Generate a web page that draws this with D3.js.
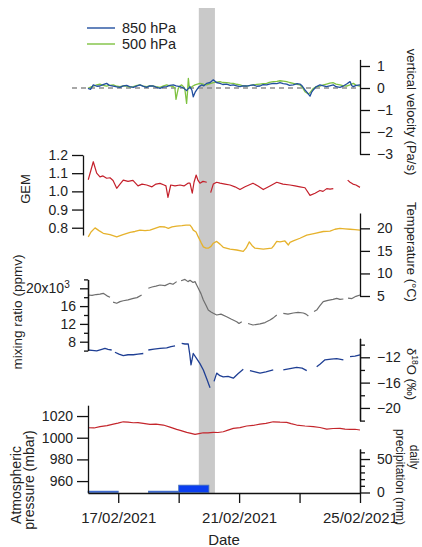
<!DOCTYPE html>
<html><head><meta charset="utf-8">
<script src="https://cdn.jsdelivr.net/npm/d3@7"></script>
<style>
body{margin:0;background:#fff}
svg text{font-family:"Liberation Sans",Arial,sans-serif;fill:#222}
</style></head><body><svg id="c" width="422" height="547"></svg>
<script>
// ---------- DATA ----------
const startDate = "2021-02-16T00:00:00Z", endDate = "2021-02-25T00:00:00Z";
const dateTicks = ["2021-02-17","2021-02-19","2021-02-21","2021-02-23","2021-02-25"];
const dateTickLabels = ["17/02/2021","","21/02/2021","","25/02/2021"];
const bandHours = [88, 100.8];   // shaded event window (hours after 16/02 00:00)

const vel850H = [0,2,4.2,7,9.5,12,14.8,17,20.1,23,25.4,28,30.7,33,36,39,41.3,44,46.6,49,51.9,54,57.2,60,62.5,65,67.8,70,73.1,76,78.3,81,82.5,83.6,85,86.3,88,90.3,92,94.2,97,99.5,102,104.8,107,110.1,113,115.4,118,120.7,123,126,129,131.3,134,136.6,139,141.9,144,147.2,150,152.5,155,157.8,160,163,166,168.3,170,172.3,174,176.3,177.5,178.9,181,184.2,187,189.5,192,194.8,197,200.1,203,205.4,208.1,209.5,210.7,213,216];
const vel850 = [-0.02,-0.06,0.14,0.08,0.09,0.15,0.21,0.12,0.09,0.05,0.03,0.1,0.12,0.06,0.03,0.1,0.14,0.07,0.03,0.1,0.09,0.04,-0.02,0.05,0.06,0.12,0.14,0.1,0.06,0.0,-0.12,0.06,-0.1,-0.4,-0.2,-0.09,0.05,0.14,0.1,0.21,0.25,0.37,0.25,0.21,0.16,0.18,0.12,0.14,0.1,0.06,0.1,0.09,0.12,0.14,0.08,0.09,0.15,0.14,0.18,0.21,0.2,0.24,0.2,0.18,0.12,0.14,0.2,0.18,0.1,-0.09,-0.2,-0.37,-0.2,-0.09,0.05,0.14,0.1,0.06,0.1,0.14,0.06,0.03,0.1,0.18,0.29,0.1,0.06,0.12,0.14];
const vel500H = [0,2.5,4.2,7,9.5,12,14.8,17,20.1,23,25.4,28,30.7,33,36,39,41.3,44,46.6,49,51.9,54,57.2,60,62.5,65,67.8,69,69.9,71,71.7,73.1,74.4,76,77,78.3,79,79.7,80.3,81,83,85,88.9,92,94.2,97,99.5,102,104.8,107,110.1,113,115.4,118,120.7,123,126,129,131.3,134,136.6,139,141.9,144,147.2,150,152.5,155,157.8,160,163,166,168.3,170,172.3,175,176.5,178.9,181,184.2,187,189.5,192,194.8,197,200.1,203,205.4,208,210.7,213,216];
const vel500 = [-0.02,0.05,0.09,0.14,0.18,0.12,0.09,0.12,0.14,0.08,0.06,0.1,0.09,0.04,0.06,0.12,0.14,0.08,0.06,0.1,0.09,0.06,0.03,0.1,0.14,0.1,0.06,0.0,-0.52,-0.2,-0.02,0.1,0.14,0.05,-0.09,-0.70,-0.2,0.44,0.1,-0.02,0.08,0.14,0.21,0.16,0.14,0.2,0.24,0.27,0.29,0.25,0.24,0.22,0.21,0.17,0.14,0.1,0.09,0.12,0.14,0.16,0.18,0.2,0.21,0.26,0.29,0.3,0.33,0.31,0.29,0.25,0.21,0.17,0.14,0.05,-0.17,-0.27,-0.2,-0.02,0.05,0.09,0.14,0.18,0.22,0.24,0.18,0.14,0.1,0.09,0.14,0.21,0.12,0.09];

const gemH = [0.2,4.2,6.9,9.5,11.9,14.8,17.5,19.9,22.8,25.4,28,31.8,35.7,39.7,42.9,46.6,50.8,54,57.2,60.4,61.9,63.5,65.7,69.1,73.1,76.2,79.4,81,82.8,84.2,85.9,87.4,88.9,91.3,94.3,96,97.4,99.5,102.2,104.8,108.8,112.8,116.7,120.7,124.7,131,135,139.2,144.5,149.9,154.8,160.4,164.4,168.3,172.3,176.3,180.3,184.2,186.6,189.6,192.2,194.8,200,206.2,208.1,210.4,212.8,216];
const gem = [1.064,1.163,1.10,1.08,1.085,1.072,1.075,1.06,1.017,1.04,1.062,1.055,1.06,1.03,1.04,1.035,1.025,1.04,1.044,1.035,1.03,0.967,1.035,1.03,1.035,1.03,1.045,1.045,0.99,1.05,1.09,1.06,1.045,1.055,1.05,null,0.993,1.04,1.05,1.045,1.04,1.035,1.025,1.01,1.025,1.045,1.03,1.01,1.03,1.05,1.04,1.035,1.03,1.025,1.02,0.978,0.99,1.005,1.0,1.015,1.012,1.015,null,1.062,1.05,1.04,1.035,1.022];

const tempH = [0.2,2.4,5.6,8.7,12.1,17.5,22.8,27.8,33.4,37.3,41.3,45.3,49.2,53.2,57.2,61.1,63.8,66.7,70.4,74.6,77.8,81,82.4,83.6,85.8,87.6,89.7,91.6,93.7,95.5,97.7,99.5,102.2,104.8,107.4,112.8,118.1,123.3,125.5,128.1,130.2,132.6,139.2,145.9,147.7,149.9,152.5,156.4,159.1,160.4,163,168.3,173.7,180.3,186.8,192.2,196.1,200.1,204.1,208.1,212,216];
const temp = [18.1,19.2,20.1,19.5,18.9,18.6,18.1,18.6,19.1,19.3,19.6,19.5,19.6,20.0,20.4,20.3,20.0,20.3,20.5,20.6,20.7,20.7,20.2,19.6,19.2,18.1,16.9,15.9,15.6,15.6,16.0,16.7,17.1,16.5,15.8,15.4,15.2,14.9,15.6,17.0,16.2,15.6,15.4,15.6,16.2,17.1,17.0,17.2,16.3,16.9,17.2,17.8,18.5,18.9,19.3,19.4,19.8,20.0,19.9,19.8,19.7,19.6];

const mrH = [0,3.2,6.4,9.5,12.1,15.1,17.5,18.5,19.9,22.8,25.4,28,31.8,36,38.9,42.6,45,47.9,50.8,54,57.2,61.1,65.1,67.5,70.4,72,73.9,77,79.4,81,83.4,85,86.2,87.6,89.7,91.6,93.7,95.5,97.7,99.5,102.2,105.6,110.1,113.6,118.1,119.9,122.1,124,127.1,131,134.2,136.6,140.6,144.5,146.9,149.9,152,155.1,158.8,163,166.8,171,173.1,175,177,179.5,181.6,184.2,186.8,190.6,194.6,197.5,200.1,202.8,204.5,206.5,209.6,212.8,216];
const mr = [18500,18400,18600,18700,18870,18300,17980,null,16900,16630,17000,17210,17400,17750,17900,18500,null,20000,20300,20500,20740,20600,21120,20900,21500,null,21700,22000,21500,21800,21300,21500,20800,20000,18800,17370,16200,15120,14700,14380,14000,14200,13620,13100,12500,12100,12500,null,12100,11750,11900,12000,12300,12880,13300,14000,null,14380,14200,14450,14600,14450,14200,13770,null,14800,15120,16100,17000,17300,17500,17750,17500,17600,null,17800,17700,18200,18500];

const d18H = [0,3.2,6.9,10.3,13.5,15.9,18.8,20.5,21.4,24.6,28,31.8,36,39.7,43.9,46,47.9,52.4,57.2,62.5,65.9,69.1,71,74.4,77,79.6,80.8,81.8,83.6,86.3,88.9,91.6,94.5,96.9,98,100.1,102.2,104.8,107.4,111.2,115.4,119.1,123.3,125.5,128.6,132.6,136.6,141.3,147.1,149.5,155.1,160.4,165.7,170,173.7,176,181.6,184.2,188.2,193,197.5,202.8,204.5,208.1,212,216];
const d18 = [-10.85,-10.9,-11.0,-10.8,-10.6,-10.75,-10.85,null,-11.2,-11.5,-11.75,-11.6,-11.6,-11.5,-11.4,null,-10.85,-10.7,-10.6,-10.5,-10.3,-10.2,null,-9.8,-9.9,-9.9,-11.5,-13.2,-11.4,-12.2,-13.0,-14.0,-15.5,-16.8,null,-15.8,-14.5,-14.9,-15.1,-15.0,-15.3,-14.6,-13.9,null,-14.1,-14.3,-14.5,-14.3,-14.0,null,-14.0,-13.8,-13.6,-13.7,-14.1,null,-13.5,-13.1,-12.4,-12.3,-12.2,-12.4,null,-11.9,-11.8,-11.6];

const presH = [0,4.8,9.5,15.1,20.1,23.8,28,31.8,36,39.7,43.9,49.2,54,59.8,65.1,70.4,73.9,78.4,81.8,85,88.1,91.6,95.3,99.5,103.2,107.4,111.2,115.4,120.7,126,131,136.6,141.3,147.1,152.5,157.8,161.2,165.7,172.3,178.9,184.2,189.6,194.6,200.1,204.1,208.1,212,216];
const pres = [1009.2,1009.0,1010.2,1011.2,1012.6,1013.5,1014.7,1014.3,1013.8,1013.9,1013.2,1012.3,1012.6,1011.7,1009.8,1007.7,1006.6,1004.9,1004.0,1003.1,1003.8,1004.6,1004.4,1004.9,1004.8,1005.5,1007.0,1008.6,1009.3,1010.8,1011.3,1012.6,1013.2,1014.7,1014.3,1014.1,1013.0,1011.7,1010.8,1010.2,1009.4,1008.0,1008.5,1008.6,1007.9,1007.7,1007.8,1007.1];

const precipDays = ["2021-02-16","2021-02-17","2021-02-18","2021-02-19","2021-02-20","2021-02-21","2021-02-22","2021-02-23","2021-02-24"];
const precip = [2,0,2,11,0,0,0,0,0];

const velTicks = [1,0,-1,-2,-3];
const gemTicks = [0.8,0.9,1.0,1.1,1.2];
const tempTicks = [5,10,15,20];
const mrTicks = [8000,12000,16000,20000];
const mrMinor = [6000,10000,14000,18000,22000];
const d18Ticks = [-12,-16,-20];
const d18Minor = [-10,-14,-18,-22];
const presTicks = [960,980,1000,1020];
const precTicks = [0,50];
const precMinor = [10,20,30,40,60];

// ---------- DRAW ----------
const svg = d3.select("#c");
const t0 = Date.parse(startDate);
const hd = h => new Date(t0 + h * 3600e3);
const x = d3.scaleUtc().domain([new Date(startDate), new Date(endDate)]).range([88, 360]);
const pd = s => new Date(s + "T00:00:00Z");

const yVel = d3.scaleLinear().domain([-3, 1.3]).range([154, 59.4]);
const yGem = d3.scaleLinear().domain([0.76, 1.2]).range([235, 155]);
const yTemp = d3.scaleLinear().domain([5, 23.4]).range([296, 213]);
const yMr = d3.scaleLinear().domain([6000, 22000]).range([350.6, 279.4]);
const yD18 = d3.scaleLinear().domain([-22, -9]).range([420.6, 338.3]);
const yPres = d3.scaleLinear().domain([949, 1030]).range([493, 405.2]);
const yPrec = d3.scaleLinear().domain([0, 65]).range([492.5, 449]);

// shaded event band
svg.append("rect")
  .attr("x", x(hd(bandHours[0]))).attr("width", x(hd(bandHours[1])) - x(hd(bandHours[0])))
  .attr("y", 8).attr("height", 485).attr("fill", "#c9c9c9");

// zero dashed line
svg.append("line").attr("x1", 72).attr("x2", 360).attr("y1", yVel(0)).attr("y2", yVel(0))
  .attr("stroke", "#8c8c8c").attr("stroke-width", 1.3).attr("stroke-dasharray", "5,4");

function drawLine(hs, vs, y, color, w) {
  const data = d3.zip(hs, vs);
  const line = d3.line().defined(d => d[1] != null).x(d => x(hd(d[0]))).y(d => y(d[1]));
  svg.append("path").datum(data).attr("d", line).attr("fill", "none")
    .attr("stroke", color).attr("stroke-width", w || 1.2).attr("stroke-linejoin", "round");
}

// precipitation bars
svg.append("g").selectAll("rect").data(d3.zip(precipDays, precip).filter(d => d[1] > 0)).join("rect")
  .attr("x", d => x(pd(d[0])))
  .attr("width", d => x(d3.utcDay.offset(pd(d[0]), 1)) - x(pd(d[0])))
  .attr("y", d => yPrec(d[1])).attr("height", d => yPrec(0) - yPrec(d[1]))
  .attr("fill", "#0b3ef0").attr("stroke", "#4d76b8").attr("stroke-width", 0.8);

drawLine(vel500H, vel500, yVel, "#7fc241", 1.3);
drawLine(vel850H, vel850, yVel, "#224f9f", 1.3);
drawLine(gemH, gem, yGem, "#c4202b");
drawLine(tempH, temp, yTemp, "#e6b22c", 1.3);
drawLine(mrH, mr, yMr, "#6e6e6e");
drawLine(d18H, d18, yD18, "#1f3f94", 1.3);
drawLine(presH, pres, yPres, "#c4262c");

function styleAxis(g, fs) {
  g.selectAll("path.domain").attr("stroke", "#111").attr("stroke-width", 1.3);
  g.selectAll(".tick line").attr("stroke", "#111").attr("stroke-width", 1.3);
  g.selectAll(".tick text").attr("font-size", fs || 14).attr("fill", "#222")
    .style("font-family", '"Liberation Sans",Arial,sans-serif');
}
function rightAxis(y, ticks, fmt, minor, xpos) {
  if (minor) {
    const gm = svg.append("g").attr("transform", `translate(${xpos},0)`)
      .call(d3.axisRight(y).tickValues(minor).tickSize(5).tickSizeOuter(0).tickFormat(""));
    styleAxis(gm);
  }
  const g = svg.append("g").attr("transform", `translate(${xpos},0)`)
    .call(d3.axisRight(y).tickValues(ticks).tickSize(10).tickPadding(7).tickSizeOuter(0).tickFormat(fmt));
  styleAxis(g);
  return g;
}
function leftAxis(y, ticks, fmt, minor, xpos, size) {
  if (minor) {
    const gm = svg.append("g").attr("transform", `translate(${xpos},0)`)
      .call(d3.axisLeft(y).tickValues(minor).tickSize(4).tickSizeOuter(0).tickFormat(""));
    styleAxis(gm);
  }
  const g = svg.append("g").attr("transform", `translate(${xpos},0)`)
    .call(d3.axisLeft(y).tickValues(ticks).tickSize(size).tickPadding(4).tickSizeOuter(0).tickFormat(fmt));
  styleAxis(g);
  return g;
}

rightAxis(yVel, velTicks, d3.format("d"), null, 360);
leftAxis(yGem, gemTicks, d3.format(".1f"), null, 83, 11);
rightAxis(yTemp, tempTicks, d3.format("d"), null, 360);
const gMr = leftAxis(yMr, mrTicks, d => d === 20000 ? "20x10" : String(d / 1000), mrMinor, 88, 8);
gMr.selectAll(".tick text").filter(d => d === 20000).attr("dx", "-0.45em")
  .append("tspan").attr("dy", "-0.55em").attr("font-size", 10).text("3");
rightAxis(yD18, d18Ticks, d3.format("d"), d18Minor, 360);
leftAxis(yPres, presTicks, d3.format("d"), null, 88, 11);
rightAxis(yPrec, precTicks, d3.format("d"), precMinor, 360);

// x axis
const gx = svg.append("g").attr("transform", "translate(0,493)")
  .call(d3.axisBottom(x).tickValues(dateTicks.map(pd)).tickSize(10).tickPadding(9).tickSizeOuter(0)
    .tickFormat((d, i) => dateTickLabels[i]));
styleAxis(gx, 15);

// legend
const legend = [["850 hPa", "#224f9f", 28], ["500 hPa", "#7fc241", 44]];
legend.forEach(([label, col, yy]) => {
  svg.append("line").attr("x1", 87).attr("x2", 115).attr("y1", yy).attr("y2", yy)
    .attr("stroke", col).attr("stroke-width", 1.4);
  svg.append("text").attr("x", 122).attr("y", yy + 5).attr("font-size", 14.5).text(label);
});

// axis titles
function vtext(cx, cy, rot, fs, txt) {
  const off = rot > 0 ? -0.36 * fs : 0.36 * fs;
  return svg.append("text").attr("transform", `translate(${cx + off},${cy}) rotate(${rot})`)
    .attr("text-anchor", "middle").attr("font-size", fs).text(txt);
}
vtext(412, 112, 90, 13, "vertical velocity (Pa/s)");
vtext(25, 189, -90, 13, "GEM");
vtext(412, 252, 90, 13, "Temperature (°C)");
vtext(17, 312, -90, 13.5, "mixing ratio (ppmv)");
const dl = vtext(412, 374, 90, 13, "δ");
dl.append("tspan").attr("font-size", 8.5).attr("dy", "-0.6em").text("18");
dl.append("tspan").attr("dy", "0.45em").text("O (‰)");
vtext(414, 457, 90, 12, "daily");
vtext(400, 477, 90, 12, "precipitation (mm)");
vtext(16, 485, -90, 14, "Atmospheric");
vtext(29, 480, -90, 14, "pressure (mbar)");
svg.append("text").attr("x", 224).attr("y", 545).attr("text-anchor", "middle").attr("font-size", 15).text("Date");
</script></body></html>
